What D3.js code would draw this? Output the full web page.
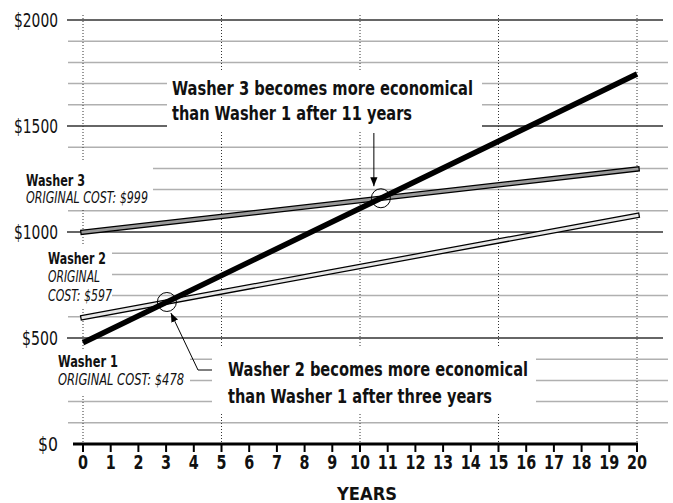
<!doctype html>
<html>
<head>
<meta charset="utf-8">
<script src="https://cdnjs.cloudflare.com/ajax/libs/d3/7.8.5/d3.min.js"></script>
<style>
  body { margin: 0; background: #fff; }
  svg text { font-family: "DejaVu Sans Condensed", "DejaVu Sans", sans-serif; font-stretch: condensed; fill: #111; }
  .ylab { font-size: 19px; }
  .xlab { font-size: 19px; font-weight: bold; }
  .note { font-size: 19px; font-weight: bold; }
  .name { font-size: 15px; font-weight: bold; }
  .cost { font-size: 15px; font-style: italic; }
</style>
</head>
<body>
<svg id="chart" width="673" height="503"></svg>
<script>
// cost over time (two end points per washer, straight lines)
var years = [0, 20];
var washer1 = [478, 1745];
var washer2 = [597, 1078];
var washer3 = [999, 1297];
var yTicks = [0, 500, 1000, 1500, 2000];
var xTicks = [0,1,2,3,4,5,6,7,8,9,10,11,12,13,14,15,16,17,18,19,20];
var dottedYears = [0, 5, 10, 15, 20];

var svg = d3.select("#chart");
var x = d3.scaleLinear().domain([0, 20]).range([83, 637]);
var y = d3.scaleLinear().domain([0, 2000]).range([444, 20]);

// squeeze text to the condensed widths of the original face
function fit(sel, w) {
  return sel.attr("textLength", w).attr("lengthAdjust", "spacingAndGlyphs");
}
function label(cls, tx, ty, str, w) {
  return fit(svg.append("text").attr("class", cls).attr("x", tx).attr("y", ty).text(str), w);
}

// horizontal grid
var grid = d3.range(100, 2001, 100);
svg.selectAll("line.grid").data(grid).enter().append("line")
  .attr("class", "grid")
  .attr("x1", d => d % 500 === 0 ? 67 : 68)
  .attr("x2", d => d % 500 === 0 ? 663 : 668)
  .attr("y1", d => y(d)).attr("y2", d => y(d))
  .attr("stroke", d => d % 500 === 0 ? "#333" : "#b0b0b0")
  .attr("stroke-width", 1.5);

// dotted verticals
svg.selectAll("line.vgrid").data(dottedYears).enter().append("line")
  .attr("x1", d => x(d)).attr("x2", d => x(d))
  .attr("y1", 15).attr("y2", y(0))
  .attr("stroke", "#333").attr("stroke-width", 1)
  .attr("stroke-dasharray", "1,2");

// white knock-out boxes behind labels
var boxes = [
  [167, 70, 315, 60],   // top note
  [212, 348, 324, 65],  // bottom note
  [20, 160, 133, 50],   // washer 3
  [40, 245, 72, 62],    // washer 2
  [50, 350, 140, 45]    // washer 1
];
svg.selectAll("rect.box").data(boxes).enter().append("rect")
  .attr("x", d => d[0]).attr("y", d => d[1])
  .attr("width", d => d[2]).attr("height", d => d[3])
  .attr("fill", "#fff");

// x axis
svg.append("line").attr("x1", 73).attr("x2", x(20) + 1)
  .attr("y1", y(0)).attr("y2", y(0))
  .attr("stroke", "#000").attr("stroke-width", 3);
svg.selectAll("line.tick").data(xTicks).enter().append("line")
  .attr("x1", d => x(d)).attr("x2", d => x(d))
  .attr("y1", y(0)).attr("y2", y(0) + 8)
  .attr("stroke", "#000").attr("stroke-width", 2);
svg.selectAll("text.xlab").data(xTicks).enter().append("text")
  .attr("class", "xlab")
  .attr("x", d => x(d)).attr("y", 469)
  .attr("text-anchor", "middle")
  .attr("textLength", d => d < 10 ? 10 : 20).attr("lengthAdjust", "spacingAndGlyphs")
  .text(d => d);
fit(svg.append("text").attr("x", 337).attr("y", 500)
  .style("font-size", "17px").style("font-weight", "bold")
  .text("YEARS"), 60);

// y labels
svg.selectAll("text.ylab").data(yTicks).enter().append("text")
  .attr("class", "ylab")
  .attr("x", 58).attr("y", d => y(d) + 7)
  .attr("text-anchor", "end")
  .attr("textLength", d => d === 0 ? 20 : (d < 1000 ? 36 : 44)).attr("lengthAdjust", "spacingAndGlyphs")
  .text(d => "$" + d);

// data lines
var line = d3.line().x(d => x(d[0])).y(d => y(d[1]));
function pts(arr) { return years.map((t, i) => [t, arr[i]]); }

function doubleLine(arr, fill) {
  svg.append("path").attr("d", line(pts(arr)))
    .attr("stroke", "#000").attr("stroke-width", 5.5).attr("stroke-linecap", "square").attr("fill", "none");
  svg.append("path").attr("d", line(pts(arr)))
    .attr("stroke", fill).attr("stroke-width", 3).attr("stroke-linecap", "square").attr("fill", "none");
}
doubleLine(washer3, "#999");
doubleLine(washer2, "#e6e6e6");
svg.append("path").attr("d", line(pts(washer1)))
  .attr("stroke", "#000").attr("stroke-width", 5.5).attr("fill", "none");

// crossing points
function slope(a) { return (a[1] - a[0]) / (years[1] - years[0]); }
function cross(a, b) {
  var t = (b[0] - a[0]) / (slope(a) - slope(b));
  return [t, a[0] + slope(a) * t];
}
var c12 = cross(washer1, washer2);
var c13 = cross(washer1, washer3);
svg.selectAll("circle.cross").data([c12, c13]).enter().append("circle")
  .attr("cx", d => x(d[0])).attr("cy", d => y(d[1]))
  .attr("r", 9.5).attr("fill", "none").attr("stroke", "#000").attr("stroke-width", 1);

// arrows
svg.append("defs").append("marker")
  .attr("id", "arr").attr("viewBox", "0 0 10 10").attr("refX", 10).attr("refY", 5)
  .attr("markerWidth", 9).attr("markerHeight", 9).attr("orient", "auto")
  .attr("markerUnits", "userSpaceOnUse")
  .append("path").attr("d", "M0,1 L10,5 L0,9 Z").attr("fill", "#000");

svg.append("line").attr("x1", x(c13[0]) - 7).attr("x2", x(c13[0]) - 7)
  .attr("y1", 133).attr("y2", y(c13[1]) - 12)
  .attr("stroke", "#000").attr("stroke-width", 1).attr("marker-end", "url(#arr)");
svg.append("polyline")
  .attr("points", [[212, 370], [198, 370], [x(c12[0]) + 4, y(c12[1]) + 11]].join(" "))
  .attr("fill", "none").attr("stroke", "#000").attr("stroke-width", 1).attr("marker-end", "url(#arr)");

// notes
label("note", 172, 95, "Washer 3 becomes more economical", 301);
label("note", 172, 120, "than Washer 1 after 11 years", 240);
label("note", 228, 376, "Washer 2 becomes more economical", 300);
label("note", 228, 403, "than Washer 1 after three years", 264);

// washer labels
label("name", 26, 186, "Washer 3", 59);
label("cost", 26, 203, "ORIGINAL COST: $999", 122);
label("name", 48, 264, "Washer 2", 58);
label("cost", 48, 282, "ORIGINAL", 52);
label("cost", 48, 301, "COST: $597", 64);
label("name", 58, 367, "Washer 1", 60);
label("cost", 58, 385, "ORIGINAL COST: $478", 126);
</script>
</body>
</html>
